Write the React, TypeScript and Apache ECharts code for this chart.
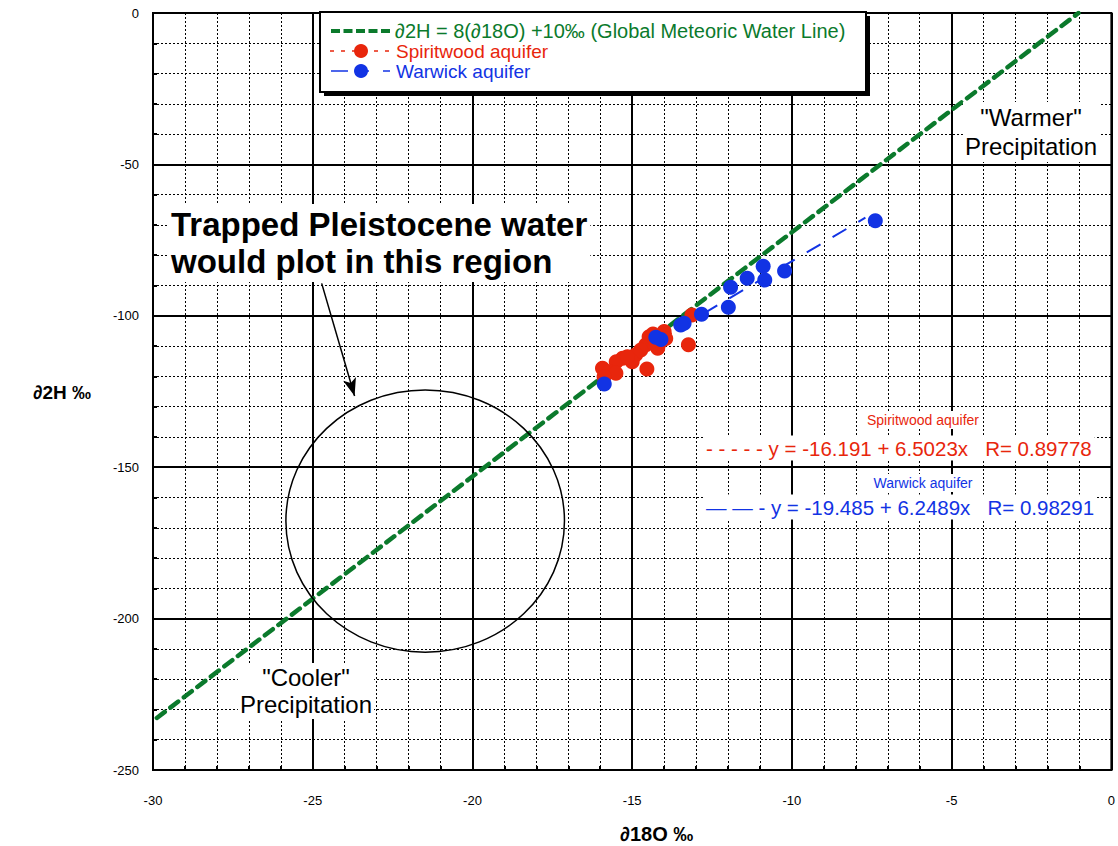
import React, { useEffect, useRef } from 'react';
import * as echarts from 'echarts';

// ---- data ----
const spiritwoodX = [-13.13, -13.24, -14.0, -13.95, -14.47, -14.57, -14.2, -14.73, -14.89, -15.0, -15.3, -15.5, -14.54, -15.93, -15.72, -15.51, -15.88, -15.15, -14.3, -14.1, -14.35];
const spiritwoodY = [-99.7, -109.6, -105.2, -107.5, -106.9, -109.6, -110.7, -111.3, -112.9, -115.2, -114.0, -115.2, -117.6, -117.3, -118.5, -119.0, -120.1, -113.5, -108.0, -108.5, -106.0];
const warwickX = [-7.39, -10.23, -10.9, -10.85, -11.4, -11.92, -11.99, -12.83, -13.375, -13.48, -14.1, -14.26, -15.875];
const warwickY = [-68.6, -85.2, -83.6, -88.2, -87.6, -90.6, -97.2, -99.5, -102.5, -103.0, -107.8, -107.1, -122.5];
// Global Meteoric Water Line end points as drawn
const gmwlX = [-29.88, -1.03];
const gmwlY = [-232.8, 0];
// regression line end points
const spiritFitX = [-16.0, -13.2];
const spiritFitY = [-120.23, -102.02];
const warwickFitX = [-16.0, -7.7];
const warwickFitY = [-119.47, -67.6];
// circled region: centre x, centre y, radius x, radius y (data units)
const regionCircle = [[-21.48, -167.8, 4.36, 43.3]];
// arrow from text to region
const arrowFrom = [-24.72, -89.3];
const arrowTo = [-23.69, -126.5];

const xTicks = [-30, -25, -20, -15, -10, -5, 0];
const yTicks = [0, -50, -100, -150, -200, -250];

const GREEN = '#0b7a2c';
const RED = '#e8260c';
const BLUE = '#1233e4';
const FONT = '"Liberation Sans", Arial, Helvetica, sans-serif';

const zip = (a: number[], b: number[]) => a.map((v, i) => [v, b[i]]);

export default function App() {
  const ref = useRef<HTMLDivElement>(null);
  useEffect(() => {
    document.body.style.margin = '0';
    const chart = echarts.init(ref.current!, undefined, { renderer: 'svg' });
    const txt = (text: string, x: number, y: number, size: number, color: string, extra: any = {}) => ({
      type: 'text',
      z: 50,
      style: {
        text, x, y, fill: color,
        font: `${extra.weight || 'normal'} ${size}px ${FONT}`,
        align: extra.align || 'left',
        verticalAlign: 'middle',
        lineHeight: extra.lineHeight,
        backgroundColor: extra.bg ? '#fff' : undefined,
        padding: extra.bg ? extra.pad || [2, 3] : undefined,
      },
    });
    const option: any = {
      animation: false,
      textStyle: { fontFamily: FONT },
      grid: { left: 153, top: 13, right: 5, bottom: 76, show: true, borderColor: '#000', borderWidth: 2 },
      xAxis: {
        type: 'value', min: xTicks[0], max: xTicks[xTicks.length - 1], interval: 5,
        axisLine: { show: true, onZero: false, lineStyle: { color: '#000', width: 2 } },
        axisTick: { show: true, inside: true, length: 5, lineStyle: { color: '#000', width: 2 } },
        minorTick: { show: true, splitNumber: 5, length: 4, lineStyle: { color: '#000', width: 2 } },
        axisLabel: { color: '#000', fontSize: 13, margin: 24, fontFamily: FONT },
        splitLine: { show: true, lineStyle: { color: '#000', width: 2 } },
        minorSplitLine: { show: true, lineStyle: { color: '#000', width: 1, type: [2, 2] } },
      },
      yAxis: {
        type: 'value', min: yTicks[yTicks.length - 1], max: yTicks[0], interval: 50,
        axisLine: { show: true, onZero: false, lineStyle: { color: '#000', width: 2 } },
        axisTick: { show: true, inside: true, length: 5, lineStyle: { color: '#000', width: 2 } },
        minorTick: { show: true, splitNumber: 5, length: 4, lineStyle: { color: '#000', width: 2 } },
        axisLabel: { color: '#000', fontSize: 13, margin: 14, fontFamily: FONT },
        splitLine: { show: true, lineStyle: { color: '#000', width: 2 } },
        minorSplitLine: { show: true, lineStyle: { color: '#000', width: 1, type: [2, 2] } },
      },
      series: [
        {
          type: 'line', name: 'GMWL', data: zip(gmwlX, gmwlY), showSymbol: false, symbol: 'none',
          lineStyle: { color: GREEN, width: 4.5, type: [10, 7], cap: 'round' }, z: 2, silent: true,
        },
        {
          type: 'line', name: 'Spiritwood fit', data: zip(spiritFitX, spiritFitY), symbol: 'none',
          lineStyle: { color: RED, width: 1.5, type: [3, 6] }, z: 3, silent: true,
        },
        {
          type: 'line', name: 'Warwick fit', data: zip(warwickFitX, warwickFitY), symbol: 'none',
          lineStyle: { color: BLUE, width: 2, type: [16, 14] }, z: 3, silent: true,
        },
        {
          type: 'scatter', name: 'Spiritwood aquifer', data: zip(spiritwoodX, spiritwoodY),
          symbolSize: 15, itemStyle: { color: RED, opacity: 1 }, z: 4,
        },
        {
          type: 'scatter', name: 'Warwick aquifer', data: zip(warwickX, warwickY),
          symbolSize: 15, itemStyle: { color: BLUE, opacity: 1 }, z: 5,
        },
        {
          type: 'custom', name: 'region', data: regionCircle, z: 6, silent: true,
          renderItem: (params: any, api: any) => {
            const c = api.coord([api.value(0), api.value(1)]);
            const s = api.size([api.value(2), api.value(3)]);
            return {
              type: 'ellipse',
              shape: { cx: c[0], cy: c[1], rx: s[0], ry: s[1] },
              style: { fill: 'none', stroke: '#000', lineWidth: 1.5 },
            };
          },
          markLine: {
            silent: true, symbol: ['none', 'arrow'], symbolSize: [10, 18],
            lineStyle: { color: '#000', width: 1.5, type: 'solid' },
            label: { show: false },
            data: [[{ coord: arrowFrom }, { coord: arrowTo }]],
          },
        },
      ],
      graphic: [
        // legend box
        { type: 'rect', z: 40, shape: { x: 324, y: 16, width: 546, height: 80 }, style: { fill: '#000' } },
        { type: 'rect', z: 41, shape: { x: 320, y: 12, width: 546, height: 80 }, style: { fill: '#fff', stroke: '#000', lineWidth: 2 } },
        { type: 'line', z: 42, shape: { x1: 331, y1: 31, x2: 390, y2: 31 }, style: { stroke: GREEN, lineWidth: 4, lineDash: [9, 3.5] } },
        { type: 'line', z: 42, shape: { x1: 330, y1: 51, x2: 392, y2: 51 }, style: { stroke: RED, lineWidth: 1.5, lineDash: [4, 7] } },
        { type: 'circle', z: 43, shape: { cx: 361, cy: 51, r: 7 }, style: { fill: RED } },
        { type: 'line', z: 42, shape: { x1: 331, y1: 71, x2: 348, y2: 71 }, style: { stroke: BLUE, lineWidth: 1.5 } },
        { type: 'line', z: 42, shape: { x1: 355, y1: 71, x2: 369, y2: 71 }, style: { stroke: BLUE, lineWidth: 1.5 } },
        { type: 'line', z: 42, shape: { x1: 383, y1: 71, x2: 390, y2: 71 }, style: { stroke: BLUE, lineWidth: 1.5 } },
        { type: 'circle', z: 43, shape: { cx: 361, cy: 71, r: 7 }, style: { fill: BLUE } },
        { ...txt('∂2H = 8(∂18O) +10‰ (Global Meteoric Water Line)', 395, 31, 20, GREEN, { lineHeight: 19 }), z: 43 },
        { ...txt('Spiritwood aquifer', 396, 51, 19, RED, { lineHeight: 19 }), z: 43 },
        { ...txt('Warwick aquifer', 396, 71, 19, BLUE, { lineHeight: 19 }), z: 43 },
        // annotations
        txt('Trapped Pleistocene water\nwould plot in this region', 168, 243, 33, '#000', { weight: 'bold', lineHeight: 37, bg: true, pad: [2, 3] }),
        txt('"Warmer"\nPrecipitation', 1031, 132, 24, '#000', { align: 'center', lineHeight: 29, bg: true, pad: [1, 2] }),
        txt('"Cooler"\nPrecipitation', 306, 691, 24, '#000', { align: 'center', lineHeight: 27, bg: true, pad: [1, 2] }),
        txt('Spiritwood aquifer', 923, 420, 14, RED, { align: 'center', bg: true, pad: [2, 3] }),
        txt('- - - - - y = -16.191 + 6.5023x   R= 0.89778', 703, 448, 20.5, RED, { bg: true, pad: [2, 3] }),
        txt('Warwick aquifer', 923, 483, 14, BLUE, { align: 'center', bg: true, pad: [2, 3] }),
        txt('— — - y = -19.485 + 6.2489x   R= 0.98291', 703, 507, 20.5, BLUE, { bg: true, pad: [2, 3] }),
        // axis names
        txt('∂2H ‰', 33, 392, 19, '#000', { weight: 'bold' }),
        txt('∂18O ‰', 620, 834, 20, '#000', { weight: 'bold' }),
      ],
    };
    chart.setOption(option);
    return () => chart.dispose();
  }, []);
  return <div ref={ref} style={{ width: 1118, height: 846 }} />;
}
